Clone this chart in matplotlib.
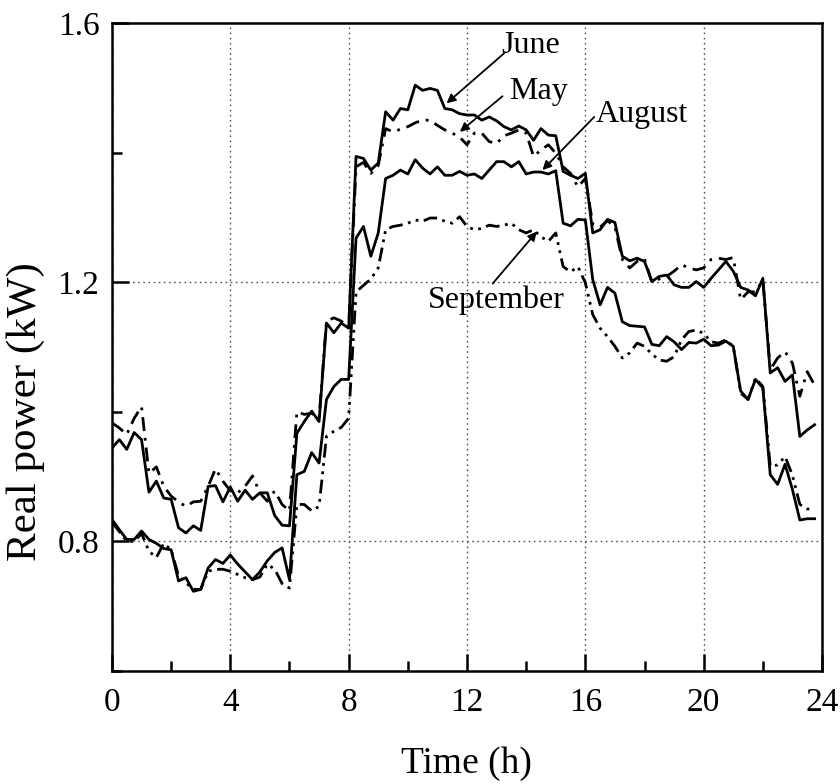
import numpy as np
import matplotlib
matplotlib.use("Agg")
import matplotlib.pyplot as plt
from matplotlib.ticker import MultipleLocator

plt.rcParams['font.family'] = ['Liberation Serif', 'DejaVu Serif']

# 15-minute samples over one day
hours = np.arange(96) * 0.25

june = [0.944, 0.957, 0.942, 0.968, 0.957, 0.876, 0.893, 0.867, 0.865, 0.821,
        0.813, 0.824, 0.817, 0.885, 0.886, 0.861, 0.884, 0.862, 0.879, 0.865,
        0.875, 0.875, 0.840, 0.825, 0.824, 0.967, 0.985, 1.001, 0.985, 1.137,
        1.122, 1.137, 1.129, 1.394, 1.391, 1.373, 1.384, 1.463, 1.450, 1.468,
        1.466, 1.504, 1.496, 1.499, 1.496, 1.468, 1.466, 1.460, 1.458, 1.458,
        1.450, 1.455, 1.449, 1.440, 1.435, 1.441, 1.435, 1.419, 1.437, 1.427,
        1.426, 1.371, 1.365, 1.360, 1.368, 1.276, 1.281, 1.297, 1.292, 1.240,
        1.233, 1.237, 1.232, 1.201, 1.209, 1.211, 1.196, 1.192, 1.192, 1.201,
        1.192, 1.206, 1.219, 1.232, 1.217, 1.192, 1.188, 1.179, 1.206, 1.060,
        1.068, 1.047, 1.057, 0.962, 0.972, 0.980]

may = [0.983, 0.975, 0.965, 0.990, 1.008, 0.905, 0.915, 0.885, 0.870, 0.861,
       0.854, 0.861, 0.862, 0.885, 0.912, 0.893, 0.878, 0.875, 0.885, 0.901,
       0.875, 0.862, 0.878, 0.857, 0.847, 1.000, 0.996, 0.998, 0.990, 1.140,
       1.145, 1.140, 1.130, 1.378, 1.385, 1.368, 1.380, 1.437, 1.432, 1.436,
       1.440, 1.446, 1.450, 1.450, 1.442, 1.435, 1.430, 1.424, 1.412, 1.430,
       1.430, 1.417, 1.414, 1.426, 1.430, 1.435, 1.430, 1.394, 1.404, 1.412,
       1.399, 1.378, 1.368, 1.347, 1.360, 1.290, 1.285, 1.295, 1.285, 1.235,
       1.222, 1.232, 1.236, 1.200, 1.205, 1.209, 1.217, 1.227, 1.222, 1.219,
       1.222, 1.235, 1.237, 1.235, 1.238, 1.173, 1.185, 1.185, 1.203, 1.065,
       1.083, 1.093, 1.075, 1.024, 1.062, 1.041]

august = [0.834, 0.818, 0.803, 0.803, 0.816, 0.803, 0.797, 0.789, 0.787, 0.739,
          0.744, 0.723, 0.726, 0.759, 0.772, 0.766, 0.779, 0.765, 0.753, 0.741,
          0.753, 0.770, 0.783, 0.790, 0.741, 0.903, 0.908, 0.937, 0.921, 1.019,
          1.039, 1.050, 1.050, 1.268, 1.286, 1.240, 1.276, 1.360, 1.365, 1.373,
          1.367, 1.389, 1.376, 1.367, 1.378, 1.365, 1.365, 1.371, 1.365, 1.367,
          1.360, 1.373, 1.386, 1.386, 1.378, 1.386, 1.367, 1.370, 1.370, 1.367,
          1.372, 1.291, 1.287, 1.297, 1.296, 1.204, 1.165, 1.192, 1.183, 1.139,
          1.133, 1.132, 1.131, 1.104, 1.102, 1.116, 1.108, 1.096, 1.107, 1.106,
          1.112, 1.102, 1.103, 1.109, 1.101, 1.032, 1.019, 1.050, 1.037, 0.903,
          0.888, 0.919, 0.880, 0.833, 0.835, 0.835]

september = [0.830, 0.815, 0.800, 0.800, 0.812, 0.785, 0.775, 0.797, 0.787, 0.747,
             0.736, 0.726, 0.726, 0.754, 0.757, 0.757, 0.754, 0.749, 0.744, 0.741,
             0.745, 0.765, 0.757, 0.735, 0.728, 0.857, 0.857, 0.847, 0.854, 0.962,
             0.970, 0.976, 0.990, 1.185, 1.195, 1.205, 1.222, 1.281, 1.286, 1.288,
             1.291, 1.296, 1.294, 1.299, 1.299, 1.294, 1.291, 1.301, 1.286, 1.281,
             1.283, 1.288, 1.286, 1.288, 1.291, 1.281, 1.276, 1.281, 1.270, 1.263,
             1.276, 1.224, 1.216, 1.224, 1.199, 1.150, 1.129, 1.116, 1.101, 1.083,
             1.091, 1.106, 1.101, 1.089, 1.080, 1.078, 1.085, 1.111, 1.124, 1.126,
             1.121, 1.108, 1.106, 1.111, 1.101, 1.029, 1.019, 1.052, 1.039, 0.916,
             0.918, 0.931, 0.902, 0.857, 0.850, 0.850]

# label text, text position, arrow head, arrow tail (data coords)
labels = [
    ("June", (14.15, 1.566), (11.31, 1.476), (13.25, 1.553)),
    ("May", (14.4, 1.494), (11.76, 1.432), (13.2, 1.487)),
    ("August", (17.9, 1.458), (14.55, 1.373), (16.3, 1.455)),
    ("September", (13.0, 1.172), (14.36, 1.278), (12.87, 1.198)),
]

fig = plt.figure(figsize=(8.4, 7.84), dpi=100)
ax = fig.add_axes([0.1333, 0.1441, 0.8453, 0.8266])

lw = 2.0
ax.plot(hours, june, color='black', lw=lw, ls='-')
ax.plot(hours, may, color='black', lw=lw, dashes=(5, 2.5, 1, 2.5))
ax.plot(hours, august, color='black', lw=lw, ls='-')
ax.plot(hours, september, color='black', lw=lw, dashes=(5, 2, 1, 2, 1, 2))

for text, txy, head, tail in labels:
    ax.text(txy[0], txy[1], text, fontsize=23, ha='center', va='center')
    ax.annotate('', xy=head, xytext=tail,
                arrowprops=dict(arrowstyle='-|>', color='black', lw=1.3,
                                mutation_scale=13, shrinkA=0, shrinkB=0))

ax.set_xlim(0, 24)
ax.set_ylim(0.6, 1.6)
ax.xaxis.set_major_locator(MultipleLocator(4))
ax.xaxis.set_minor_locator(MultipleLocator(2))
ax.yaxis.set_minor_locator(MultipleLocator(0.2))
ax.set_yticks([0.8, 1.2, 1.6])

ax.grid(True, which='major', ls=(0, (1.2, 2.5)), color='#555555', lw=1.0)
ax.tick_params(which='both', direction='in', top=False, right=False,
               width=1.8, labelsize=24)
ax.tick_params(which='major', length=12)
ax.tick_params(which='minor', length=7)
ax.tick_params(axis='x', pad=12)
ax.tick_params(axis='y', pad=9)
for sp in ax.spines.values():
    sp.set_linewidth(1.8)

ax.set_xlabel('Time (h)', fontsize=27)
ax.set_ylabel('Real power (kW)', fontsize=31)
ax.xaxis.set_label_coords(0.499, -0.117)
ax.yaxis.set_label_coords(-0.094, 0.40)

fig.savefig('out.png', dpi=100)
